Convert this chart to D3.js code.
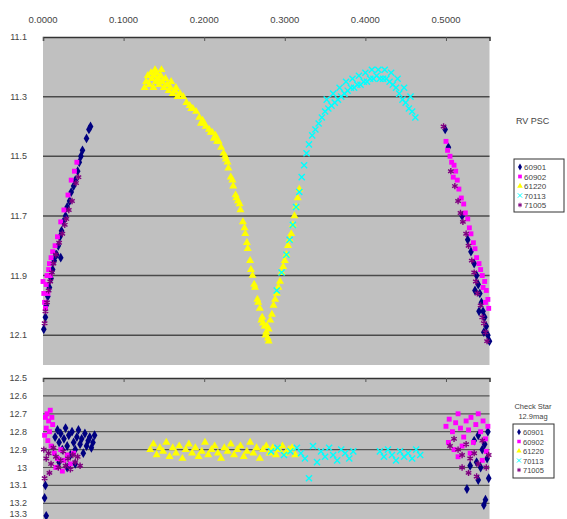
<!DOCTYPE html>
<html>
<head>
<meta charset="utf-8">
<script src="https://cdn.jsdelivr.net/npm/d3@7"></script>
<style>
  html, body { margin: 0; padding: 0; background: #ffffff; }
  svg { display: block; }
  text { font-family: "Liberation Sans", Arial, sans-serif; }
</style>
</head>
<body>
<script>
// ---------- tick labels ----------
const xTicks = [0, 0.1, 0.2, 0.3, 0.4, 0.5];
const topYTicks = [11.1, 11.3, 11.5, 11.7, 11.9, 12.1];
const bottomYTicks = [12.5, 12.6, 12.7, 12.8, 12.9, 13.0, 13.1, 13.2, 13.3];
const seriesNames = ["60901", "60902", "61220", "70113", "71005"];
const topLegendTitle = "RV PSC";
const bottomLegendTitle = ["Check Star", "12.9mag"];

// ---------- RV Psc (variable) : [phase, mag] ----------
const rv60901 = [
  [0.001,12.08],[0.003,12.04],[0.004,12.00],[0.006,11.97],[0.008,11.94],[0.010,11.91],[0.012,11.88],
  [0.014,11.85],[0.017,11.83],[0.019,11.80],[0.021,11.77],[0.023,11.75],[0.025,11.72],[0.028,11.70],
  [0.030,11.67],[0.033,11.65],[0.035,11.62],[0.038,11.60],[0.040,11.58],[0.043,11.55],[0.045,11.52],
  [0.047,11.50],[0.049,11.48],[0.054,11.44],[0.057,11.41],[0.059,11.40],[0.022,11.84],[0.016,11.83],
  [0.499,11.41],[0.503,11.47],[0.520,11.70],[0.527,11.78],[0.531,11.82],[0.535,11.86],[0.538,11.90],
  [0.540,11.93],[0.542,11.96],[0.544,11.99],[0.546,12.02],[0.548,12.04],[0.550,12.07],[0.552,12.10],
  [0.554,12.12],[0.536,11.95],[0.541,12.02],[0.547,12.09]
];
const rv60902 = [
  [0.000,11.92],[0.001,11.96],[0.002,11.99],[0.003,12.01],[0.004,11.93],[0.005,11.90],[0.006,11.96],
  [0.007,11.88],[0.008,11.86],[0.010,11.84],[0.012,11.82],[0.009,11.90],[0.015,11.80],[0.018,11.77],
  [0.022,11.72],[0.026,11.68],[0.031,11.63],[0.035,11.58],[0.039,11.55],[0.042,11.52],
  [0.500,11.45],[0.502,11.48],[0.505,11.50],[0.507,11.52],[0.510,11.53],[0.512,11.55],[0.509,11.57],
  [0.514,11.58],[0.516,11.61],[0.519,11.64],[0.522,11.66],[0.524,11.69],[0.527,11.71],[0.529,11.74],
  [0.531,11.76],[0.534,11.79],[0.536,11.81],[0.538,11.84],[0.541,11.86],[0.543,11.88],[0.545,11.90],
  [0.548,11.92],[0.550,11.95],[0.552,11.98],[0.553,12.01],[0.549,11.99],[0.546,11.94]
];
const rv61220 = [
  [0.128,11.25],[0.130,11.23],[0.132,11.26],[0.134,11.22],[0.135,11.24],[0.137,11.27],[0.138,11.23],
  [0.140,11.25],[0.141,11.22],[0.143,11.24],[0.144,11.26],[0.146,11.23],[0.148,11.25],[0.150,11.27],
  [0.152,11.24],[0.154,11.26],[0.156,11.28],[0.158,11.27],[0.161,11.29],[0.164,11.28],[0.167,11.30],
  [0.126,11.27],[0.139,11.21],[0.147,11.21],[0.159,11.25],[0.165,11.27],
  [0.170,11.29],[0.174,11.30],[0.178,11.32],[0.182,11.33],[0.186,11.34],[0.190,11.35],[0.194,11.37],
  [0.198,11.38],[0.202,11.40],[0.206,11.41],[0.210,11.42],[0.214,11.43],[0.218,11.45],[0.221,11.47],
  [0.224,11.49],[0.227,11.51],[0.230,11.54],[0.233,11.57],[0.236,11.60],[0.239,11.63],[0.242,11.65],
  [0.245,11.68],[0.248,11.72],[0.251,11.76],[0.254,11.81],[0.257,11.85],[0.260,11.90],[0.263,11.94],
  [0.266,11.98],[0.269,12.01],[0.272,12.04],[0.275,12.07],[0.277,12.09],[0.279,12.11],
  [0.196,11.39],[0.212,11.44],[0.229,11.52],[0.244,11.66],[0.258,11.88],[0.271,12.05],[0.276,12.10],
  [0.280,12.12],[0.278,12.07],
  [0.184,11.34],[0.200,11.39],[0.208,11.42],[0.216,11.45],[0.226,11.50],[0.235,11.58],[0.240,11.64],
  [0.250,11.74],[0.253,11.79],[0.262,11.93],[0.267,11.99],[0.273,12.06],
  [0.280,12.08],[0.282,12.05],[0.284,12.03],[0.286,12.00],[0.288,11.98],[0.290,11.96],[0.292,11.94],
  [0.294,11.92],[0.296,11.89],[0.298,11.87],[0.300,11.85],[0.302,11.83],[0.304,11.80],[0.306,11.78],
  [0.308,11.76],[0.310,11.73],[0.312,11.70],[0.314,11.67],[0.316,11.64],[0.318,11.61]
];
const rv70113 = [
  [0.290,11.95],[0.296,11.89],[0.302,11.83],[0.306,11.78],[0.310,11.73],[0.314,11.67],
  [0.318,11.62],[0.321,11.57],[0.324,11.53],[0.327,11.49],[0.330,11.46],[0.334,11.43],[0.338,11.41],
  [0.342,11.39],[0.346,11.37],[0.350,11.35],[0.354,11.34],[0.358,11.33],[0.362,11.32],[0.366,11.31],
  [0.370,11.30],[0.374,11.29],[0.378,11.28],[0.382,11.27],[0.386,11.27],[0.390,11.26],[0.394,11.26],
  [0.398,11.25],[0.402,11.25],[0.406,11.24],[0.410,11.24],[0.414,11.23],[0.418,11.24],[0.422,11.24],
  [0.426,11.24],[0.430,11.25],[0.434,11.26],[0.438,11.27],[0.442,11.29],[0.446,11.31],[0.450,11.32],
  [0.454,11.34],[0.458,11.35],[0.462,11.37],
  [0.352,11.31],[0.360,11.29],[0.368,11.27],[0.376,11.25],[0.384,11.24],[0.392,11.23],[0.400,11.22],
  [0.408,11.21],[0.416,11.21],[0.424,11.21],[0.432,11.22],[0.440,11.24],[0.448,11.27],[0.456,11.30]
];
const rv71005 = [
  [0.002,12.06],[0.003,12.02],[0.005,11.99],[0.007,11.95],[0.009,11.92],[0.011,11.89],[0.013,11.86],
  [0.016,11.83],[0.020,11.79],[0.024,11.76],[0.027,11.73],[0.029,11.71],[0.032,11.68],[0.036,11.65],
  [0.041,11.59],[0.044,11.57],
  [0.497,11.40],[0.506,11.55],[0.511,11.60],[0.515,11.65],[0.518,11.69],[0.521,11.72],[0.525,11.76],
  [0.528,11.80],[0.532,11.85],[0.535,11.89],[0.537,11.92],[0.539,11.96],[0.543,12.00],[0.545,12.04],
  [0.547,12.06],[0.549,12.09],[0.551,12.12]
];

// ---------- Check star : [phase, mag] ----------
const chk60901 = [
  [0.015,12.83],[0.018,12.79],[0.020,12.86],[0.022,12.81],[0.024,12.90],[0.026,12.84],[0.028,12.78],
  [0.030,12.88],[0.032,12.82],[0.034,12.93],[0.036,12.80],[0.038,12.86],[0.040,12.90],[0.042,12.83],
  [0.044,12.79],[0.046,12.87],[0.048,12.84],[0.050,12.92],[0.052,12.81],[0.054,12.88],[0.056,12.85],
  [0.058,12.83],[0.060,12.89],[0.062,12.86],[0.064,12.82],[0.020,12.97],[0.030,13.00],[0.040,12.98],
  [0.003,13.10],[0.002,13.17],[0.004,13.27],
  [0.535,12.85],[0.540,12.82],[0.545,12.90],[0.548,12.87],[0.551,12.95],[0.538,12.97],[0.543,13.00],
  [0.553,13.06],[0.540,13.07],[0.526,13.12],[0.549,13.18],[0.547,13.21],[0.530,12.99],[0.552,12.80]
];
const chk60902 = [
  [0.003,12.72],[0.005,12.70],[0.007,12.74],[0.009,12.68],[0.011,12.72],[0.004,12.78],[0.008,12.80],
  [0.006,12.85],[0.012,12.76],[0.002,12.82],[0.010,12.88],[0.014,12.92],[0.018,12.95],[0.022,12.90],
  [0.026,12.96],[0.030,12.93],[0.034,12.98],[0.016,13.00],[0.038,12.92],[0.024,13.02],
  [0.500,12.77],[0.504,12.73],[0.508,12.80],[0.512,12.75],[0.515,12.70],[0.518,12.78],[0.522,12.83],
  [0.525,12.74],[0.528,12.79],[0.531,12.72],[0.534,12.86],[0.537,12.76],[0.540,12.70],[0.543,12.80],
  [0.546,12.74],[0.549,12.84],[0.552,12.77],[0.503,12.86],[0.510,12.90],[0.520,12.88],[0.530,12.92],
  [0.550,12.91],[0.545,12.96],[0.515,12.94]
];
const chk61220 = [
  [0.133,12.90],[0.137,12.87],[0.141,12.93],[0.145,12.89],[0.149,12.91],[0.153,12.86],[0.157,12.94],
  [0.161,12.89],[0.165,12.92],[0.169,12.88],[0.173,12.95],[0.177,12.90],[0.181,12.87],[0.185,12.92],
  [0.189,12.89],[0.193,12.94],[0.197,12.91],[0.201,12.86],[0.205,12.93],[0.209,12.90],[0.213,12.88],
  [0.217,12.92],[0.221,12.95],[0.225,12.89],[0.229,12.91],[0.233,12.87],[0.237,12.93],[0.241,12.90],
  [0.245,12.88],[0.249,12.94],[0.253,12.91],[0.257,12.86],[0.261,12.92],[0.265,12.89],[0.269,12.95],
  [0.273,12.90],[0.277,12.88],[0.281,12.92],[0.285,12.89],[0.289,12.93],[0.293,12.90],[0.297,12.88],
  [0.301,12.92],[0.305,12.90],[0.309,12.89],[0.313,12.93]
];
const chk70113 = [
  [0.283,12.91],[0.291,12.89],[0.299,12.93],[0.307,12.91],
  [0.345,12.91],[0.350,12.94],[0.355,12.89],[0.360,12.93],[0.365,12.96],[0.370,12.90],[0.375,12.92],
  [0.380,12.95],[0.385,12.91],[0.340,12.97],[0.418,12.91],[0.423,12.94],[0.428,12.90],[0.433,12.93],
  [0.438,12.96],[0.443,12.91],[0.448,12.94],[0.453,12.92],[0.458,12.95],[0.463,12.90],[0.468,12.93],
  [0.320,12.92],[0.325,12.95],[0.330,13.06],[0.335,12.88],[0.315,12.89]
];
const chk71005 = [
  [0.001,12.90],[0.004,12.95],[0.007,12.92],[0.010,12.98],[0.013,12.89],[0.016,12.94],[0.019,13.00],
  [0.022,12.96],[0.025,12.91],[0.028,12.99],[0.031,12.95],[0.034,13.01],[0.037,12.93],[0.040,12.97],
  [0.043,12.94],[0.046,12.99],[0.008,13.03],[0.002,13.06],
  [0.505,12.88],[0.510,12.84],[0.515,12.90],[0.520,12.93],[0.525,12.87],[0.530,12.95],[0.535,12.92],
  [0.540,12.98],[0.545,12.85],[0.550,13.00],[0.553,12.93],[0.528,13.03],[0.520,13.00],[0.538,13.05]
];

// ---------- styles ----------
const styles = [
  { color: "#000080", type: d3.symbolDiamond, size: 28, stroke: false },
  { color: "#ff00ff", type: d3.symbolSquare, size: 24, stroke: false },
  { color: "#ffff00", type: d3.symbolTriangle, size: 28, stroke: false },
  { color: "#00ffff", type: d3.symbolX, size: 26, stroke: true },
  { color: "#800080", type: d3.symbolAsterisk, size: 28, stroke: true }
];

const W = 567, H = 519;
const svg = d3.select("body").append("svg").attr("width", W).attr("height", H);

const x = d3.scaleLinear().domain([0, 0.554]).range([43, 489.5]);
const yTop = d3.scaleLinear().domain([11.1, 12.2]).range([37, 365]);
const yBot = d3.scaleLinear().domain([12.5, 13.3]).range([378, 521.2]);

function drawPanel(yScale, yTicks, yFmt, y0, y1, gridColor, gridW) {
  const g = svg.append("g");
  g.append("rect").attr("x", x.range()[0]).attr("y", y0)
    .attr("width", x.range()[1] - x.range()[0]).attr("height", y1 - y0)
    .attr("fill", "#c0c0c0");
  g.selectAll("line.grid").data(yTicks.slice(1)).join("line")
    .attr("x1", x.range()[0]).attr("x2", x.range()[1])
    .attr("y1", d => yScale(d)).attr("y2", d => yScale(d))
    .attr("stroke", gridColor).attr("stroke-width", gridW);
  const ax = g.append("g").attr("transform", `translate(0,${y0})`)
    .call(d3.axisBottom(x).tickValues(xTicks).tickSize(4).tickFormat(""));
  ax.select(".domain").attr("stroke", "#333").attr("stroke-width", 1.5);
  ax.selectAll(".tick line").attr("stroke", "#555");
  g.selectAll("text.ylab").data(yTicks).join("text")
    .attr("x", 27).attr("y", d => Math.min(yScale(d) + 3, 517))
    .attr("text-anchor", "end").attr("font-size", 9).attr("fill", "#444")
    .text(yFmt);
  return g;
}

function drawPoints(g, data, yScale, st) {
  const sym = d3.symbol().type(st.type).size(st.size);
  g.selectAll(null).data(data).join("path")
    .attr("transform", d => `translate(${x(d[0])},${yScale(d[1])})`)
    .attr("d", sym)
    .attr("fill", st.stroke ? "none" : st.color)
    .attr("stroke", st.stroke ? st.color : "none")
    .attr("stroke-width", st.stroke ? 1.4 : 0);
}

// top panel
drawPanel(yTop, topYTicks, d => d3.format(".1f")(d), 37, 365, "#4a4a4a", 1.5);
svg.selectAll("text.xlab").data(xTicks).join("text")
  .attr("x", d => x(d)).attr("y", 23)
  .attr("text-anchor", "middle").attr("font-size", 9.5).attr("fill", "#444")
  .text(d => d3.format(".4f")(d));

const topSeries = [rv60901, rv60902, rv61220, rv70113, rv71005];
const gTopPts = svg.append("g");
topSeries.forEach((s, i) => drawPoints(gTopPts, s, yTop, styles[i]));

// bottom panel
drawPanel(yBot, bottomYTicks, d => String(+d.toFixed(1)), 378, 519, "#555", 1.2);
const botSeries = [chk60901, chk60902, chk61220, chk70113, chk71005];
const gBotPts = svg.append("g");
botSeries.forEach((s, i) => drawPoints(gBotPts, s, yBot, styles[i]));

// legends
function legend(x0, y0, w, h, step, fs, msize) {
  const g = svg.append("g");
  g.append("rect").attr("x", x0).attr("y", y0).attr("width", w).attr("height", h)
    .attr("fill", "#fff").attr("stroke", "#333").attr("stroke-width", 1);
  seriesNames.forEach((n, i) => {
    const yy = y0 + 8 + i * step;
    const st = styles[i];
    g.append("path").attr("transform", `translate(${x0 + 6},${yy})`)
      .attr("d", d3.symbol().type(st.type).size(msize))
      .attr("fill", st.stroke ? "none" : st.color)
      .attr("stroke", st.stroke ? st.color : "none").attr("stroke-width", 1);
    g.append("text").attr("x", x0 + 10).attr("y", yy + 3)
      .attr("font-size", fs).attr("fill", "#444").text(n);
  });
}
svg.append("text").attr("x", 516).attr("y", 124).attr("font-size", 9).attr("fill", "#444").text(topLegendTitle);
legend(514, 159, 50, 53, 9.5, 8, 14);

bottomLegendTitle.forEach((t, i) => {
  svg.append("text").attr("x", 533).attr("y", 409 + i * 10).attr("text-anchor", "middle")
    .attr("font-size", 7.5).attr("fill", "#444").text(t);
});
legend(513, 424, 41, 54, 9.5, 7.5, 12);
</script>
</body>
</html>
